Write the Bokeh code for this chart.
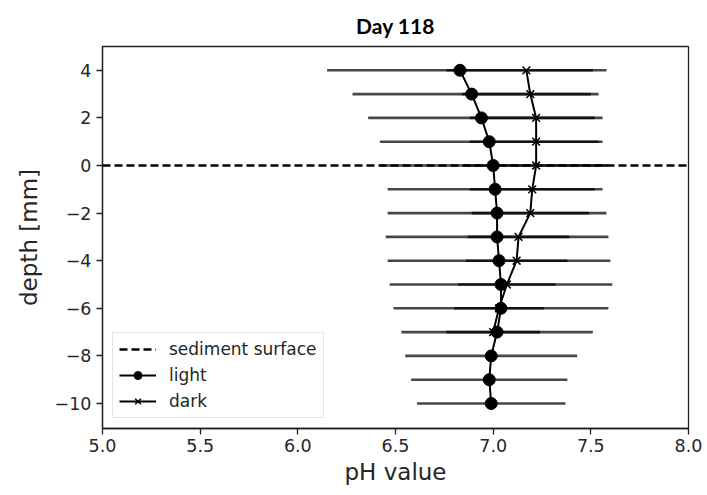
from bokeh.plotting import figure
from bokeh.models import FixedTicker, Range1d, Title, Legend, LegendItem
from bokeh.embed import file_html
from bokeh.resources import INLINE

# pH profiles (mean ± sd) against depth below/above the sediment surface
depth = [4, 3, 2, 1, 0, -1, -2, -3, -4, -5, -6, -7, -8, -9, -10]
light_ph = [6.83, 6.89, 6.94, 6.98, 7.00, 7.01, 7.02, 7.02, 7.03, 7.04, 7.04, 7.02, 6.99, 6.98, 6.99]
light_sd = [0.68, 0.61, 0.58, 0.56, 0.58, 0.55, 0.56, 0.57, 0.57, 0.57, 0.55, 0.49, 0.44, 0.40, 0.38]

dark_depth = [4, 3, 2, 1, 0, -1, -2, -3, -4, -5, -6, -7]
dark_ph = [7.17, 7.19, 7.22, 7.22, 7.22, 7.20, 7.19, 7.13, 7.12, 7.07, 7.03, 7.00]
dark_sd = [0.41, 0.35, 0.34, 0.34, 0.37, 0.32, 0.30, 0.26, 0.26, 0.25, 0.23, 0.24]

x_ticks = [5.0, 5.5, 6.0, 6.5, 7.0, 7.5, 8.0]
y_ticks = [4, 2, 0, -2, -4, -6, -8, -10]

FONT = "DejaVu Sans"

p = figure(width=707, height=495, output_backend="svg", toolbar_location=None,
           x_range=Range1d(5.0, 8.0), y_range=Range1d(-11.05, 5.0),
           min_border_left=102, min_border_right=19, min_border_top=46, min_border_bottom=67)
p.title = None
p.add_layout(Title(text="Day 118", align="center", text_font="Lato", text_font_style="bold",
                   text_font_size="21px", text_color="black", standoff=18), "above")

p.grid.visible = False
p.background_fill_color = "white"
p.border_fill_color = "white"
p.outline_line_color = "#222222"
p.outline_line_width = 1.3

for ax in (p.xaxis[0], p.yaxis[0]):
    ax.axis_line_color = "#222222"
    ax.axis_line_width = 1.3
    ax.major_tick_line_color = "#222222"
    ax.major_tick_line_width = 1.3
    ax.major_tick_out = 6
    ax.major_tick_in = 0
    ax.minor_tick_out = 0
    ax.minor_tick_in = 0
    ax.major_label_text_font = FONT
    ax.major_label_text_font_size = "17.5px"
    ax.major_label_text_color = "#262626"
    ax.axis_label_text_font = FONT
    ax.axis_label_text_font_size = "23px"
    ax.axis_label_text_font_style = "normal"
    ax.axis_label_text_color = "#262626"

p.xaxis.ticker = FixedTicker(ticks=x_ticks)
p.xaxis.major_label_overrides = {t: f"{t:.1f}" for t in x_ticks}
p.yaxis.ticker = FixedTicker(ticks=y_ticks)
p.yaxis.major_label_overrides = {t: (str(t).replace("-", "\u2212")) for t in y_ticks}
p.xaxis.axis_label = "pH value"
p.yaxis.axis_label = "depth [mm]"
p.xaxis.major_label_standoff = 4
p.yaxis.major_label_standoff = 5
p.xaxis.axis_label_standoff = 4
p.yaxis.axis_label_standoff = 10

# sediment surface
surface = p.line(x=[5.0, 8.0], y=[0, 0], line_color="black", line_width=2.4, line_dash="8 4")

# horizontal error bars
light_x0 = [m - s for m, s in zip(light_ph, light_sd)]
light_x1 = [m + s for m, s in zip(light_ph, light_sd)]
dark_x0 = [m - s for m, s in zip(dark_ph, dark_sd)]
dark_x1 = [m + s for m, s in zip(dark_ph, dark_sd)]
p.segment(x0=light_x0, x1=light_x1, y0=depth, y1=depth, line_color="black",
          line_width=2.6, line_alpha=0.72)
p.segment(x0=dark_x0, x1=dark_x1, y0=dark_depth, y1=dark_depth, line_color="black",
          line_width=2.6, line_alpha=0.72)

# profiles
l_line = p.line(x=light_ph, y=depth, line_color="black", line_width=2)
l_pts = p.scatter(x=light_ph, y=depth, marker="circle", size=12, fill_color="black",
                  line_color="black")
d_line = p.line(x=dark_ph, y=dark_depth, line_color="black", line_width=2)
d_pts = p.scatter(x=dark_ph, y=dark_depth, marker="x", size=11, line_color="black",
                  line_width=1.5)

legend = Legend(items=[
    LegendItem(label="sediment surface", renderers=[surface]),
    LegendItem(label="light", renderers=[l_line, l_pts]),
    LegendItem(label="dark", renderers=[d_line, d_pts]),
], location="bottom_left")
legend.label_text_font = FONT
legend.label_text_font_size = "17px"
legend.label_text_color = "#262626"
legend.glyph_width = 37
legend.glyph_height = 20
legend.label_height = 20
legend.label_standoff = 13
legend.spacing = 6
legend.padding = 6
legend.margin = 10
legend.border_line_color = "#cccccc"
legend.border_line_width = 1
legend.background_fill_alpha = 0.85
p.add_layout(legend)

open("out.html", "w").write(file_html(p, INLINE))
